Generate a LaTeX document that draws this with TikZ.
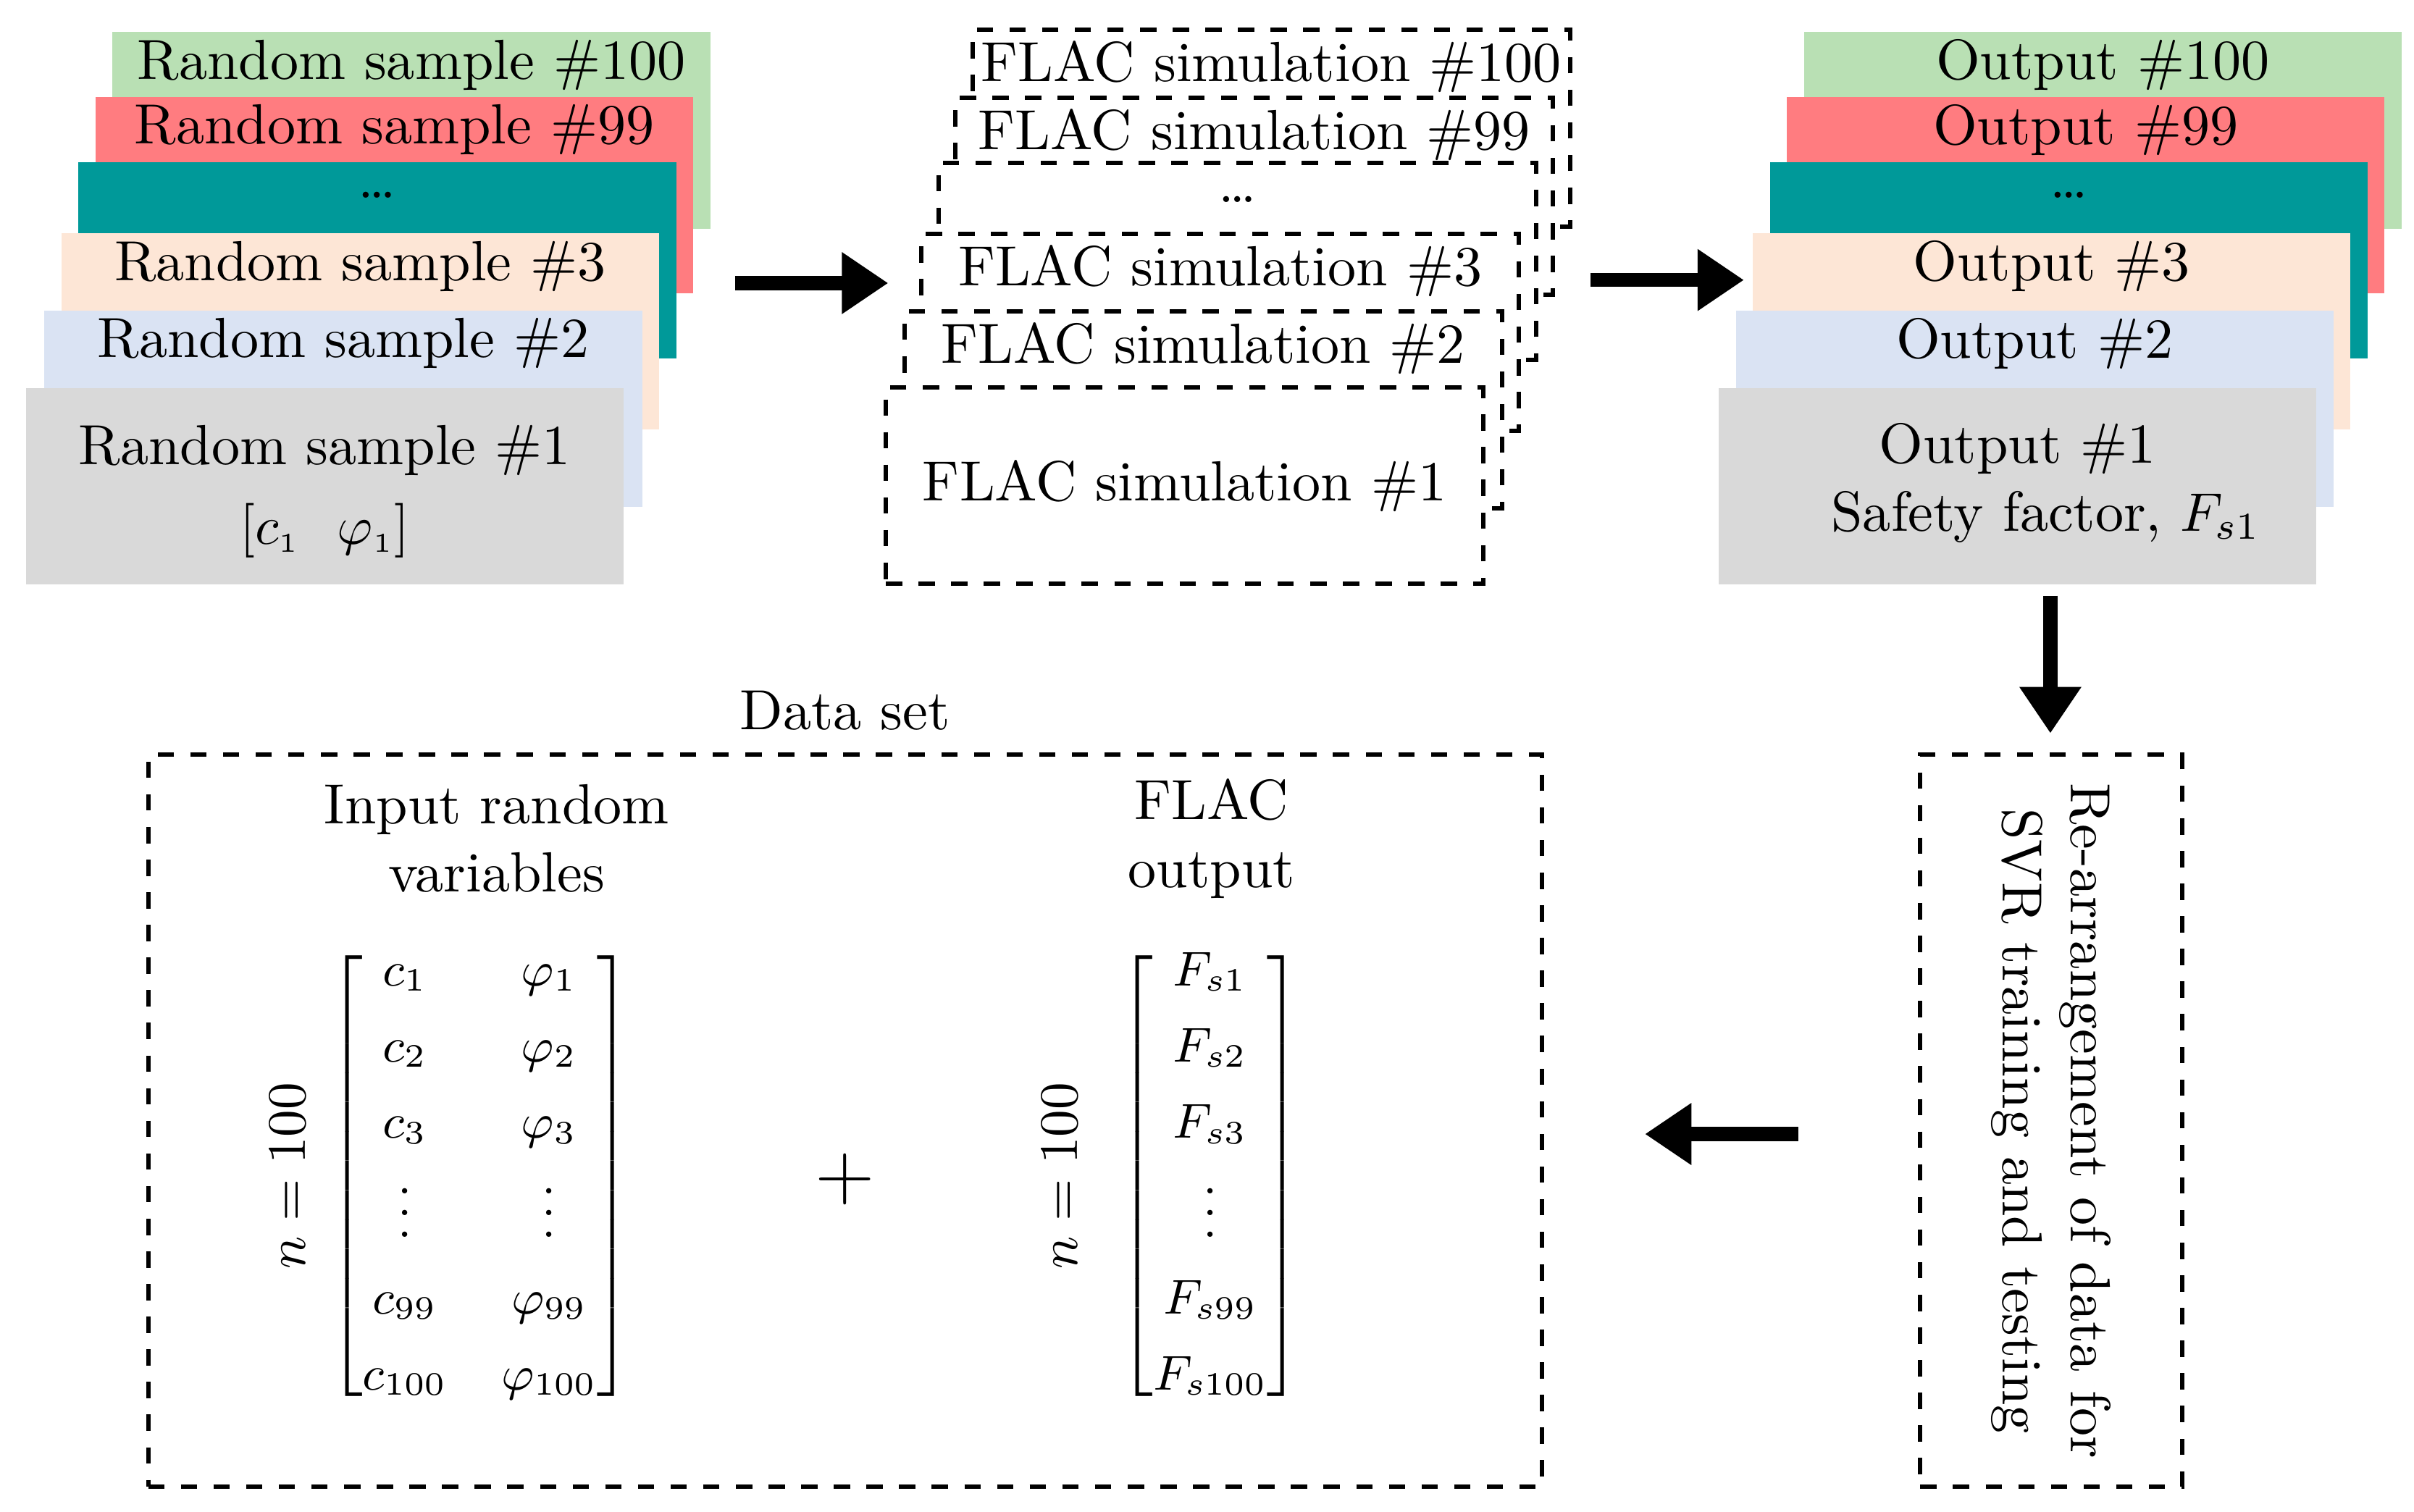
\documentclass[tikz,border=0pt]{standalone}
\usepackage{amsmath}
\usetikzlibrary{arrows.meta,positioning}
\definecolor{cgreen}{HTML}{B9E0B4}
\definecolor{cred}{HTML}{FF7C80}
\definecolor{cteal}{HTML}{009999}
\definecolor{cpeach}{HTML}{FDE6D6}
\definecolor{cblue}{HTML}{DAE3F3}
\definecolor{cgray}{HTML}{D9D9D9}
\tikzset{
	card/.style={minimum width=3.86cm, minimum height=1.27cm, anchor=north west, inner sep=0pt},
	flac/.style={card, draw, dashed, fill=white, line width=0.8pt},
	bigarrow/.style={line width=2.6pt, -{Triangle[length=0.3cm,width=0.38cm]}},
	frame/.style={draw, dashed, line width=0.8pt},
	txt/.style={font=\fontsize{10.4}{12.5}\selectfont},
}
\begin{document}
\begin{tikzpicture}[x=0.01cm,y=-0.01cm,txt]
	\useasboundingbox (0,0) rectangle (1560,977);
	
	% left stack of samples
	\foreach \dx/\y/\col/\lab [count=\i] in {72/20/cgreen/Random sample \#100, 61/62/cred/Random sample \#99, 50/104/cteal/\ldots, 39/150/cpeach/Random sample \#3, 28/200/cblue/Random sample \#2}{
		\node[card, fill=\col] (s\i) at (\dx,\y) {};
		\node at ([yshift=-0.22cm]s\i.north) {\lab};
	}
	\node[card, fill=cgray] (s6) at (16,250) {};
	\node at ([yshift=-0.41cm]s6.north) (s6t) {Random sample \#1};
	\node at ([yshift=-0.93cm]s6.north) {$[c_{\scriptscriptstyle 1}\ \ \varphi_{\scriptscriptstyle 1}]$};
	
	% FLAC simulations
	\foreach \dx/\y/\lab [count=\i] in {627/18/FLAC simulation \#100, 616/62/FLAC simulation \#99, 605/104/\ldots, 594/150/FLAC simulation \#3, 583/200/FLAC simulation \#2}{
		\node[flac] (f\i) at (\dx,\y) {};
		\node at ([yshift=-0.25cm]f\i.north) {\lab};
	}
	\node[flac] (f6) at (571,249) {};
	\node at (f6) {FLAC simulation \#1};
	
	% outputs
	\foreach \dx/\y/\col/\lab [count=\i] in {1165/20/cgreen/Output \#100, 1154/62/cred/Output \#99, 1143/104/cteal/\ldots, 1132/150/cpeach/Output \#3, 1121/200/cblue/Output \#2}{
		\node[card, fill=\col] (o\i) at (\dx,\y) {};
		\node at ([yshift=-0.22cm]o\i.north) {\lab};
	}
	\node[card, fill=cgray] (o6) at (1110,250) {};
	\node at ([yshift=-0.4cm]o6.north) (o6t) {Output \#1};
	\node at ([yshift=-0.84cm]o6.north) {\quad Safety factor, $F_{s1}$};
	
	% arrows
	\coordinate (a1) at (475,183); \coordinate (a2) at (574,183);
	\coordinate (b1) at (1028,181); \coordinate (b2) at (1127,181);
	\coordinate (c1) at (1325,385); \coordinate (c2) at (1325,474);
	\coordinate (d1) at (1162,733); \coordinate (d2) at (1063,733);
	\draw[bigarrow] (a1) -- (a2);
	\draw[bigarrow] (b1) -- (b2);
	\draw[bigarrow] (c1) -- (c2);
	\draw[bigarrow] (d1) -- (d2);
	
	% re-arrangement box
	\node[frame, minimum width=1.69cm, minimum height=4.73cm] (rb) at (1325.5,724.5) {};
	\node[rotate=-90, align=center] at (rb) {Re-arrangement of data for\\SVR training and testing};
	
	% data set box
	\node[frame, minimum width=9cm, minimum height=4.73cm] (ds) at (546,724.5) {};
	\node[above=0.02cm of ds.north] {Data set};
	\node[align=center] (inp) at (321,542) {Input random\\variables};
	\node[align=center] (out) at (783,542) {FLAC\\output};
	\node[font=\small] (m1) at (310,760) {$\left[\begin{matrix}
		c_{1} & \varphi_{1}\\[3pt] c_{2} & \varphi_{2}\\[3pt] c_{3} & \varphi_{3}\\ \vdots & \vdots\\[3pt] c_{99} & \varphi_{99}\\[3pt] c_{100} & \varphi_{100}
		\end{matrix}\right]$};
	\node[font=\small] (m2) at (782,760) {$\left[\begin{matrix}
		F_{s1}\\[3pt] F_{s2}\\[3pt] F_{s3}\\ \vdots\\[3pt] F_{s99}\\[3pt] F_{s100}
		\end{matrix}\right]$};
	\node[rotate=90] at (186,760) {$n=100$};
	\node[rotate=90] at (685,760) {$n=100$};
	\node at (546,762) {\Large$+$};
\end{tikzpicture}
\end{document}
